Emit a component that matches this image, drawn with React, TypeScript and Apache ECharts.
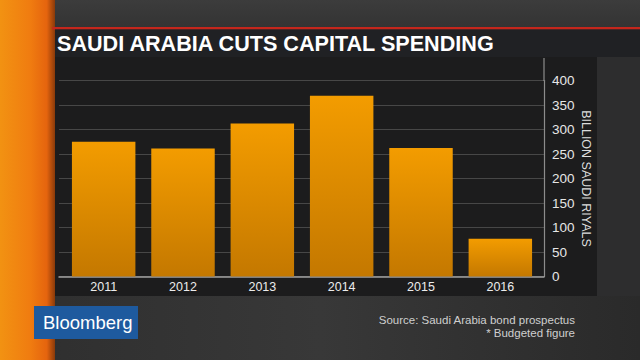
import React, { useEffect, useRef } from "react";
import * as echarts from "echarts";

const years = ["2011", "2012", "2013", "2014", "2015", "2016"];
const spending = [275, 261, 312, 369, 262, 77];
const yTicks = { min: 0, max: 400, interval: 50 };
const title = "SAUDI ARABIA CUTS CAPITAL SPENDING";
const axisName = "BILLION SAUDI RIYALS";
const sourceLines = ["Source: Saudi Arabia bond prospectus", "* Budgeted figure"];
const brand = "Bloomberg";

export default function App() {
  const ref = useRef<HTMLDivElement>(null);
  useEffect(() => {
    if (!ref.current) return;
    const chart = echarts.init(ref.current, null, { renderer: "svg" });
    const gTop = 80.5;
    const gBottom = 360 - 276.5;
    const option: any = {
      animation: false,
      backgroundColor: "#2d2d2e",
      grid: [
        { left: 64, right: 100, top: gTop, bottom: gBottom },
        { left: 59, right: 96, top: gTop, bottom: gBottom },
      ],
      xAxis: [
        {
          gridIndex: 0,
          type: "category",
          data: years,
          axisLine: { show: false },
          axisTick: { show: false },
          axisLabel: {
            color: "#ececec",
            fontSize: 12.5,
            margin: 4,
            fontFamily: "Liberation Sans, Arial, sans-serif",
          },
        },
        {
          gridIndex: 1,
          type: "value",
          min: 0,
          max: 1,
          axisLine: { show: true, onZero: false, lineStyle: { color: "#a0a0a0", width: 1.5 } },
          axisTick: { show: false },
          axisLabel: { show: false },
          splitLine: { show: false },
        },
      ],
      yAxis: [
        { gridIndex: 0, type: "value", min: yTicks.min, max: yTicks.max, show: false },
        {
          gridIndex: 1,
          type: "value",
          position: "right",
          min: yTicks.min,
          max: yTicks.max,
          interval: yTicks.interval,
          axisLine: { show: true, onZero: false, lineStyle: { color: "#8c8c8c", width: 1.2 } },
          axisTick: { show: false },
          axisLabel: {
            color: "#e6e6e6",
            fontSize: 13.5,
            margin: 8,
            fontFamily: "Liberation Sans, Arial, sans-serif",
          },
          splitLine: { show: true, lineStyle: { color: "#474747", width: 1.2 } },
          name: axisName,
          nameLocation: "middle",
          nameRotate: -90,
          nameGap: 35,
          nameMoveOverlap: false,
          nameTextStyle: {
            color: "#dcdcdc",
            fontSize: 12.5,
            fontFamily: "Liberation Sans, Arial, sans-serif",
          },
        },
      ],
      series: [
        {
          type: "bar",
          xAxisIndex: 0,
          yAxisIndex: 0,
          data: spending,
          barCategoryGap: "20%",
          itemStyle: {
            color: new echarts.graphic.LinearGradient(0, 0, 0, 1, [
              { offset: 0, color: "#f39c00" },
              { offset: 1, color: "#c47800" },
            ]),
          },
        },
      ],
      graphic: [
        {
          type: "rect",
          z: -10,
          shape: { x: 0, y: 0, width: 640, height: 28 },
          style: {
            fill: new echarts.graphic.LinearGradient(0, 0, 0, 1, [
              { offset: 0, color: "#3c3c3c" },
              { offset: 1, color: "#333333" },
            ]),
          },
        },
        {
          type: "rect",
          z: -10,
          shape: { x: 0, y: 296, width: 640, height: 64 },
          style: {
            fill: new echarts.graphic.LinearGradient(0, 0, 1, 0, [
              { offset: 0, color: "#2e2e2e" },
              { offset: 0.5, color: "#383838" },
              { offset: 1, color: "#2a2a2a" },
            ]),
          },
        },
        {
          type: "rect",
          z: -9,
          shape: { x: 0, y: 0, width: 55, height: 360 },
          style: {
            fill: new echarts.graphic.LinearGradient(0, 0, 1, 0, [
              { offset: 0, color: "#f29212" },
              { offset: 0.55, color: "#f07c10" },
              { offset: 0.85, color: "#e5640e" },
              { offset: 1, color: "#8a3a0a" },
            ]),
          },
        },
        {
          type: "rect",
          z: -8,
          shape: { x: 52, y: 27, width: 588, height: 2.5 },
          style: { fill: "#c4261c" },
        },
        {
          type: "rect",
          z: -8,
          shape: { x: 55, y: 29.5, width: 585, height: 27.5 },
          style: { fill: "#202124" },
        },
        {
          type: "rect",
          z: -8,
          shape: { x: 55, y: 57, width: 542, height: 239 },
          style: { fill: "#1c1c1d" },
        },
        {
          type: "line",
          z: 5,
          shape: { x1: 544, y1: 58, x2: 544, y2: 81 },
          style: { stroke: "#8c8c8c", lineWidth: 1.2 },
        },
        {
          type: "text",
          z: 10,
          x: 57,
          y: 43,
          style: {
            text: title,
            fill: "#ffffff",
            font: "bold 21.6px 'Liberation Sans', Arial, sans-serif",
            textVerticalAlign: "middle",
          },
        },
        {
          type: "rect",
          z: 10,
          shape: { x: 34, y: 306, width: 104, height: 33 },
          style: { fill: "#1e5a9e" },
        },
        {
          type: "text",
          z: 11,
          x: 43,
          y: 322,
          style: {
            text: brand,
            fill: "#ffffff",
            font: "18.5px 'Liberation Sans', Arial, sans-serif",
            textVerticalAlign: "middle",
          },
        },
        {
          type: "text",
          z: 10,
          x: 575,
          y: 320,
          style: {
            text: sourceLines[0],
            fill: "#cfcfcf",
            font: "11.5px 'Liberation Sans Narrow', 'Liberation Sans', Arial, sans-serif",
            textAlign: "right",
            textVerticalAlign: "middle",
          },
        },
        {
          type: "text",
          z: 10,
          x: 575,
          y: 332.5,
          style: {
            text: sourceLines[1],
            fill: "#cfcfcf",
            font: "11.5px 'Liberation Sans Narrow', 'Liberation Sans', Arial, sans-serif",
            textAlign: "right",
            textVerticalAlign: "middle",
          },
        },
      ],
    };
    chart.setOption(option);
    return () => chart.dispose();
  }, []);
  return (
    <div
      ref={ref}
      style={{ position: "absolute", left: 0, top: 0, width: 640, height: 360 }}
    />
  );
}
